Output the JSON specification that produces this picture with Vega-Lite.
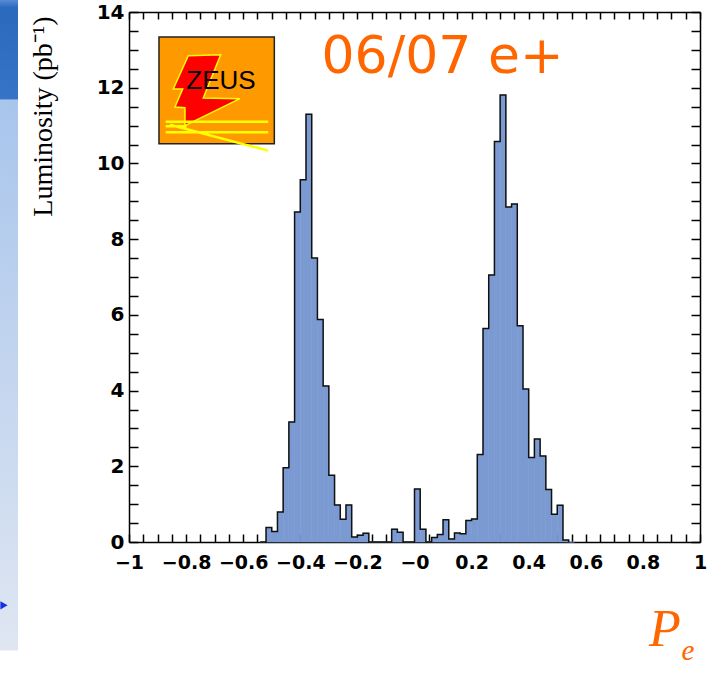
{
  "$schema": "https://vega.github.io/schema/vega-lite/v6.json",
  "width": 571,
  "height": 530,
  "autosize": "none",
  "padding": {"left": 129, "top": 12, "right": 9, "bottom": 134},
  "background": "white",
  "config": {"view": {"stroke": null}},
  "datasets": {
    "hist": [
      {"lo": -0.54, "hi": -0.52, "lumi": 0},
      {"lo": -0.52, "hi": -0.50, "lumi": 0.38},
      {"lo": -0.50, "hi": -0.48, "lumi": 0.28},
      {"lo": -0.48, "hi": -0.46, "lumi": 0.79},
      {"lo": -0.46, "hi": -0.44, "lumi": 1.96},
      {"lo": -0.44, "hi": -0.42, "lumi": 3.17},
      {"lo": -0.42, "hi": -0.40, "lumi": 8.72},
      {"lo": -0.40, "hi": -0.38, "lumi": 9.57},
      {"lo": -0.38, "hi": -0.36, "lumi": 11.30},
      {"lo": -0.36, "hi": -0.34, "lumi": 7.50},
      {"lo": -0.34, "hi": -0.32, "lumi": 5.88},
      {"lo": -0.32, "hi": -0.30, "lumi": 4.12},
      {"lo": -0.30, "hi": -0.28, "lumi": 1.76},
      {"lo": -0.28, "hi": -0.26, "lumi": 0.98},
      {"lo": -0.26, "hi": -0.24, "lumi": 0.60},
      {"lo": -0.24, "hi": -0.22, "lumi": 0.98},
      {"lo": -0.22, "hi": -0.20, "lumi": 0.13},
      {"lo": -0.20, "hi": -0.18, "lumi": 0.18},
      {"lo": -0.18, "hi": -0.16, "lumi": 0.23},
      {"lo": -0.16, "hi": -0.14, "lumi": 0},
      {"lo": -0.14, "hi": -0.12, "lumi": 0},
      {"lo": -0.12, "hi": -0.10, "lumi": 0},
      {"lo": -0.10, "hi": -0.08, "lumi": 0},
      {"lo": -0.08, "hi": -0.06, "lumi": 0.34},
      {"lo": -0.06, "hi": -0.04, "lumi": 0.26},
      {"lo": -0.04, "hi": -0.02, "lumi": 0},
      {"lo": -0.02, "hi": 0.00, "lumi": 0},
      {"lo": 0.00, "hi": 0.02, "lumi": 1.40},
      {"lo": 0.02, "hi": 0.04, "lumi": 0.34},
      {"lo": 0.04, "hi": 0.06, "lumi": 0},
      {"lo": 0.06, "hi": 0.08, "lumi": 0.12},
      {"lo": 0.08, "hi": 0.10, "lumi": 0.20},
      {"lo": 0.10, "hi": 0.12, "lumi": 0.59},
      {"lo": 0.12, "hi": 0.14, "lumi": 0.08},
      {"lo": 0.14, "hi": 0.16, "lumi": 0.24},
      {"lo": 0.16, "hi": 0.18, "lumi": 0.22},
      {"lo": 0.18, "hi": 0.20, "lumi": 0.57},
      {"lo": 0.20, "hi": 0.22, "lumi": 0.61},
      {"lo": 0.22, "hi": 0.24, "lumi": 2.31},
      {"lo": 0.24, "hi": 0.26, "lumi": 5.64},
      {"lo": 0.26, "hi": 0.28, "lumi": 7.05},
      {"lo": 0.28, "hi": 0.30, "lumi": 10.58},
      {"lo": 0.30, "hi": 0.32, "lumi": 11.81},
      {"lo": 0.32, "hi": 0.34, "lumi": 8.85},
      {"lo": 0.34, "hi": 0.36, "lumi": 8.93},
      {"lo": 0.36, "hi": 0.38, "lumi": 5.71},
      {"lo": 0.38, "hi": 0.40, "lumi": 4.04},
      {"lo": 0.40, "hi": 0.42, "lumi": 2.23},
      {"lo": 0.42, "hi": 0.44, "lumi": 2.72},
      {"lo": 0.44, "hi": 0.46, "lumi": 2.27},
      {"lo": 0.46, "hi": 0.48, "lumi": 1.39},
      {"lo": 0.48, "hi": 0.50, "lumi": 0.73},
      {"lo": 0.50, "hi": 0.52, "lumi": 0.97},
      {"lo": 0.52, "hi": 0.54, "lumi": 0.05},
      {"lo": 0.54, "hi": 0.56, "lumi": 0}
    ]
  },
  "resolve": {"axis": {"x": "independent", "y": "independent"}},
  "layer": [
    {
      "description": "slide side band, dark top part",
      "data": {"values": [{}]},
      "mark": {"type": "rect", "clip": false, "fill": {"gradient": "linear", "x1": 0, "y1": 0, "x2": 0, "y2": 1, "stops": [{"offset": 0, "color": "#5a8ed6"}, {"offset": 0.08, "color": "#2b69bd"}, {"offset": 1, "color": "#3574c6"}]}},
      "encoding": {
        "x": {"datum": -1.4518, "type": "quantitative", "scale": {"domain": [-1, 1], "nice": false}, "axis": null},
        "x2": {"datum": -1.3888},
        "y": {"datum": 14.327, "type": "quantitative", "scale": {"domain": [0, 14], "nice": false}, "axis": null},
        "y2": {"datum": 11.68}
      }
    },
    {
      "description": "slide side band, light lower part",
      "data": {"values": [{}]},
      "mark": {"type": "rect", "clip": false, "fill": {"gradient": "linear", "x1": 0, "y1": 0, "x2": 0, "y2": 1, "stops": [{"offset": 0, "color": "#a8c5ec"}, {"offset": 1, "color": "#dfe6f2"}]}},
      "encoding": {
        "x": {"datum": -1.4518, "type": "quantitative", "scale": {"domain": [-1, 1], "nice": false}, "axis": null},
        "x2": {"datum": -1.3888},
        "y": {"datum": 11.68, "type": "quantitative", "scale": {"domain": [0, 14], "nice": false}, "axis": null},
        "y2": {"datum": -2.866}
      }
    },
    {
      "description": "slide side band, bullet arrow",
      "data": {"values": [{}]},
      "mark": {"type": "point", "shape": "triangle-right", "filled": true, "opacity": 1, "size": 70, "color": "#1530e8", "clip": false},
      "encoding": {
        "x": {"datum": -1.4378, "type": "quantitative", "scale": {"domain": [-1, 1], "nice": false}, "axis": null},
        "y": {"datum": -1.674, "type": "quantitative", "scale": {"domain": [0, 14], "nice": false}, "axis": null}
      }
    },
    {
      "description": "histogram fill",
      "data": {"name": "hist"},
      "mark": {"type": "rect", "fill": "#7b9ad2", "stroke": "#7b9ad2", "strokeWidth": 0.6},
      "encoding": {
        "x": {
          "field": "lo", "type": "quantitative",
          "scale": {"domain": [-1, 1], "nice": false, "zero": false},
          "axis": {
            "orient": "bottom", "title": null, "grid": false, "tickCount": 40,
            "domainColor": "#000", "domainWidth": 1.5,
            "ticks": true, "tickSize": -8, "tickColor": "#000", "tickWidth": 1.5,
            "labelExpr": "abs(datum.value * 5 - round(datum.value * 5)) < 1e-6 ? (datum.value <= 0 && datum.value > -1e-9 ? '−0' : (datum.value < 0 ? '−' + format(-datum.value, '.1~f') : format(datum.value, '.1~f'))) : ''",
            "labelFont": "DejaVu Sans", "labelFontWeight": "bold", "labelFontSize": 19, "labelColor": "#000",
            "labelPadding": 19, "labelFlush": false, "labelOverlap": false, "labelBound": false,
            "encode": {"ticks": {"update": {"y2": {"signal": "abs(datum.value * 5 - round(datum.value * 5)) < 1e-6 ? -16 : -8"}}}}
          }
        },
        "x2": {"field": "hi"},
        "y": {
          "field": "lumi", "type": "quantitative",
          "scale": {"domain": [0, 14], "nice": false},
          "axis": {
            "orient": "left", "grid": false, "tickCount": 28,
            "domainColor": "#000", "domainWidth": 1.5,
            "ticks": true, "tickSize": -9, "tickColor": "#000", "tickWidth": 1.5,
            "labelExpr": "datum.value % 2 == 0 ? format(datum.value, 'd') : ''",
            "labelFont": "DejaVu Sans", "labelFontWeight": "bold", "labelFontSize": 20, "labelColor": "#000",
            "labelPadding": 14, "labelOverlap": false, "labelFlush": false, "labelBound": false,
            "title": "Luminosity (pb⁻¹)", "titleFont": "Liberation Serif", "titleFontWeight": "normal",
            "titleFontSize": 28, "titleColor": "#000", "titleAngle": -90, "titleAlign": "right",
            "titleBaseline": "middle", "titleX": -86, "titleY": 4,
            "encode": {"ticks": {"update": {"x2": {"signal": "datum.value % 2 == 0 ? 18 : 9"}}}}
          }
        },
        "y2": {"datum": 0}
      }
    },
    {
      "description": "histogram outline",
      "data": {"name": "hist"},
      "mark": {"type": "line", "interpolate": "step-after", "stroke": "#111", "strokeWidth": 1.5},
      "encoding": {
        "x": {
          "field": "lo", "type": "quantitative",
          "scale": {"domain": [-1, 1], "nice": false, "zero": false},
          "axis": {
            "orient": "top", "title": null, "grid": false, "tickCount": 40, "labels": false,
            "domainColor": "#000", "domainWidth": 1.5,
            "ticks": true, "tickSize": -7, "tickColor": "#000", "tickWidth": 1.5,
            "encode": {"ticks": {"update": {"y2": {"signal": "abs(datum.value * 5 - round(datum.value * 5)) < 1e-6 ? 14 : 7"}}}}
          }
        },
        "y": {
          "field": "lumi", "type": "quantitative",
          "scale": {"domain": [0, 14], "nice": false},
          "axis": {
            "orient": "right", "title": null, "grid": false, "tickCount": 28, "labels": false,
            "domainColor": "#000", "domainWidth": 1.5,
            "ticks": true, "tickSize": -9, "tickColor": "#000", "tickWidth": 1.5,
            "encode": {"ticks": {"update": {"x2": {"signal": "datum.value % 2 == 0 ? -18 : -9"}}}}
          }
        }
      }
    },
    {
      "description": "ZEUS logo panel",
      "data": {"values": [{}]},
      "mark": {"type": "rect", "fill": "#ff9900", "stroke": "#222", "strokeWidth": 1.5},
      "encoding": {
        "x": {"datum": -0.895, "type": "quantitative", "scale": {"domain": [-1, 1], "nice": false}, "axis": null},
        "x2": {"datum": -0.491},
        "y": {"datum": 13.34, "type": "quantitative", "scale": {"domain": [0, 14], "nice": false}, "axis": null},
        "y2": {"datum": 10.52}
      }
    },
    {
      "description": "ZEUS logo bolt",
      "data": {"values": [{}]},
      "mark": {
        "type": "point", "filled": true, "opacity": 1, "size": 14400,
        "shape": "M -0.473 -0.578 L 0.067 -0.595 L -0.223 0.127 L 0.388 0.138 L -0.528 0.588 L -0.528 0.288 L -0.695 0.277 L -0.567 -0.023 L -0.723 -0.023 Z",
        "fill": "#ff0000", "stroke": "#ffff00", "strokeWidth": 1.5
      },
      "encoding": {
        "x": {"datum": -0.693, "type": "quantitative", "scale": {"domain": [-1, 1], "nice": false}, "axis": null},
        "y": {"datum": 11.93, "type": "quantitative", "scale": {"domain": [0, 14], "nice": false}, "axis": null}
      }
    },
    {
      "description": "ZEUS logo beam lines",
      "data": {"values": [{}]},
      "mark": {
        "type": "point", "filled": false, "opacity": 1, "size": 14400, "clip": false,
        "shape": "M -0.85 0.522 L 0.86 0.522 M -0.85 0.7 L 0.86 0.7 M -0.85 0.6 L -0.5 0.6 M -0.778 0.572 L 0.86 1.005",
        "stroke": "#ffff00", "strokeWidth": 2.5
      },
      "encoding": {
        "x": {"datum": -0.693, "type": "quantitative", "scale": {"domain": [-1, 1], "nice": false}, "axis": null},
        "y": {"datum": 11.93, "type": "quantitative", "scale": {"domain": [0, 14], "nice": false}, "axis": null}
      }
    },
    {
      "description": "ZEUS logo lettering",
      "data": {"values": [{}]},
      "mark": {"type": "text", "text": "ZEUS", "font": "Liberation Sans", "fontSize": 26, "color": "#000", "align": "center", "baseline": "alphabetic"},
      "encoding": {
        "x": {"datum": -0.678, "type": "quantitative", "scale": {"domain": [-1, 1], "nice": false}, "axis": null},
        "y": {"datum": 11.965, "type": "quantitative", "scale": {"domain": [0, 14], "nice": false}, "axis": null}
      }
    },
    {
      "description": "run period label",
      "data": {"values": [{}]},
      "mark": {"type": "text", "text": "06/07 e+", "font": "DejaVu Sans", "fontSize": 52, "color": "#ff6600", "align": "center", "baseline": "alphabetic"},
      "encoding": {
        "x": {"datum": 0.098, "type": "quantitative", "scale": {"domain": [-1, 1], "nice": false}, "axis": null},
        "y": {"datum": 12.39, "type": "quantitative", "scale": {"domain": [0, 14], "nice": false}, "axis": null}
      }
    },
    {
      "description": "x axis title P",
      "data": {"values": [{}]},
      "mark": {"type": "text", "text": "P", "font": "Liberation Serif", "fontStyle": "italic", "fontSize": 52, "color": "#ff6600", "align": "center", "baseline": "alphabetic", "clip": false},
      "encoding": {
        "x": {"datum": 0.877, "type": "quantitative", "scale": {"domain": [-1, 1], "nice": false}, "axis": null},
        "y": {"datum": -2.74, "type": "quantitative", "scale": {"domain": [0, 14], "nice": false}, "axis": null}
      }
    },
    {
      "description": "x axis title subscript e",
      "data": {"values": [{}]},
      "mark": {"type": "text", "text": "e", "font": "Liberation Serif", "fontStyle": "italic", "fontSize": 29, "color": "#ff6600", "align": "center", "baseline": "alphabetic", "clip": false},
      "encoding": {
        "x": {"datum": 0.958, "type": "quantitative", "scale": {"domain": [-1, 1], "nice": false}, "axis": null},
        "y": {"datum": -3.13, "type": "quantitative", "scale": {"domain": [0, 14], "nice": false}, "axis": null}
      }
    }
  ]
}
